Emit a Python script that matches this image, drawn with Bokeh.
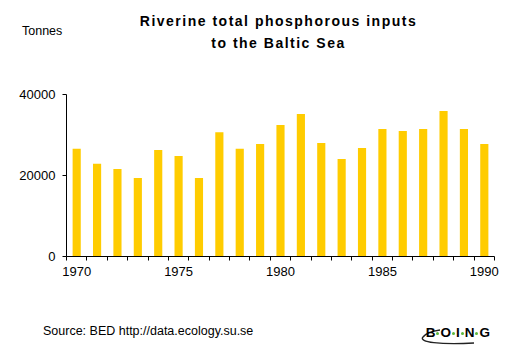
from bokeh.plotting import figure
from bokeh.models import Range1d, FixedTicker, NumeralTickFormatter, Div
from bokeh.layouts import column
from bokeh.embed import file_html
from bokeh.resources import INLINE

years = list(range(1970, 1991))
phosphorus = [26600, 22900, 21600, 19400, 26300, 24800, 19400, 30700, 26600, 27800,
              32500, 35200, 28000, 24100, 26800, 31500, 31000, 31500, 35900, 31500, 27800]
x_label_years = [1970, 1975, 1980, 1985, 1990]
y_ticks = [0, 20000, 40000]

title_lines = ["Riverine total phosphorous inputs", "to the Baltic Sea"]
unit_label = "Tonnes"
source_text = "Source: BED http://data.ecology.su.se"
logo_letters = ["B", "O", "I", "N", "G"]

FONT = "Liberation Sans"
FF = "'Liberation Sans', Arial, sans-serif"

# ---------- header ----------
header_html = f"""
<div style="position:relative;width:508px;height:80px;font-family:{FF};color:#000;">
  <div style="position:absolute;left:0;top:13px;width:557px;text-align:center;font-size:14px;line-height:16px;font-weight:bold;letter-spacing:1.5px;white-space:nowrap;">{title_lines[0]}</div>
  <div style="position:absolute;left:0;top:35px;width:557px;text-align:center;font-size:14px;line-height:16px;font-weight:bold;letter-spacing:1.5px;white-space:nowrap;">{title_lines[1]}</div>
  <div style="position:absolute;left:22px;top:24px;font-size:12.5px;line-height:14px;white-space:nowrap;">{unit_label}</div>
</div>
"""
header = Div(text=header_html, width=508, height=80, margin=(0, 0, 0, 0))

# ---------- chart ----------
p = figure(width=508, height=220, output_backend="svg", toolbar_location=None,
           x_range=Range1d(1969.5, 1990.5), y_range=Range1d(0, 40000),
           min_border_left=66, min_border_right=14, min_border_top=14, min_border_bottom=44,
           margin=(0, 0, 0, 0))
p.outline_line_color = None
p.xgrid.visible = False
p.ygrid.visible = False
p.background_fill_color = "white"
p.border_fill_color = "white"

p.vbar(x=years, top=phosphorus, width=0.4, color="#FFCC00", line_color=None)

xa = p.xaxis[0]
xa.ticker = FixedTicker(ticks=x_label_years, minor_ticks=[y - 0.5 for y in years] + [1990.5])
xa.major_tick_line_color = None
xa.major_tick_out = 4
xa.major_tick_in = 0
xa.minor_tick_out = 4
xa.minor_tick_in = 0
xa.minor_tick_line_color = "black"
xa.axis_line_color = "black"
xa.major_label_standoff = 6
xa.major_label_text_font = FONT
xa.major_label_text_font_size = "13px"
xa.major_label_text_color = "black"

ya = p.yaxis[0]
ya.ticker = FixedTicker(ticks=y_ticks)
ya.formatter = NumeralTickFormatter(format="0")
ya.major_tick_out = 4
ya.major_tick_in = 0
ya.minor_tick_line_color = None
ya.axis_line_color = "black"
ya.major_label_standoff = 7
ya.major_label_text_font = FONT
ya.major_label_text_font_size = "13px"
ya.major_label_text_color = "black"

# ---------- footer ----------
dot = ('<span style="display:inline-block;width:3px;height:3px;border-radius:50%;'
       'background:#5CB83A;margin:0 1px;vertical-align:middle;"></span>')
logo_text = dot.join(logo_letters)
footer_html = f"""
<div style="position:relative;width:508px;height:52px;font-family:{FF};color:#000;">
  <div style="position:absolute;left:43px;top:24px;font-size:12.5px;line-height:14px;white-space:nowrap;">{source_text}</div>
  <svg style="position:absolute;left:0;top:0;" width="508" height="52">
    <path d="M 474 43 C 440 45, 418 42, 423 37 C 426 33, 433 31, 440 30" fill="none" stroke="#222" stroke-width="1.4"/>
  </svg>
  <div style="position:absolute;right:18px;top:25px;font-size:13.5px;line-height:15px;font-weight:900;white-space:nowrap;">{logo_text}</div>
</div>
"""
footer = Div(text=footer_html, width=508, height=52, margin=(0, 0, 0, 0))

layout = column(header, p, footer, spacing=0)
open("out.html", "w").write(file_html(layout, INLINE))
